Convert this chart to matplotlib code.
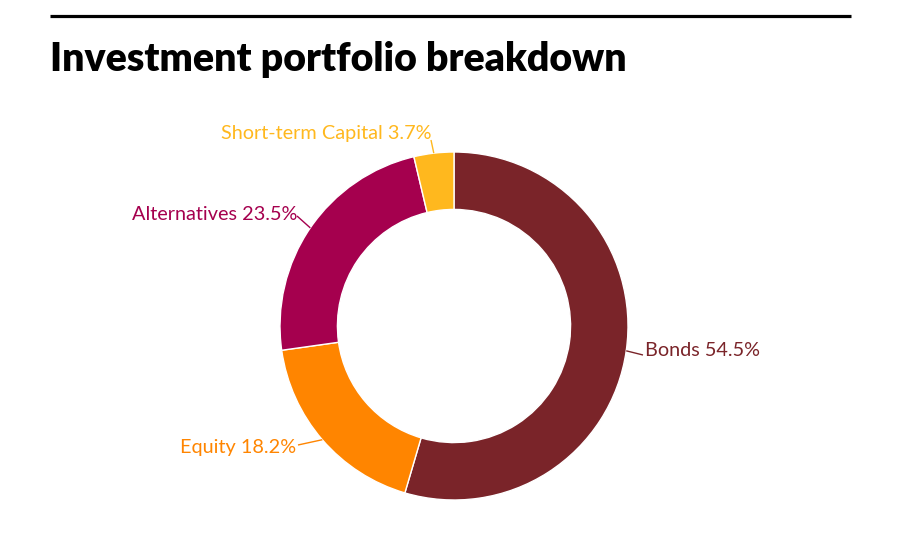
import matplotlib
matplotlib.use("Agg")
import matplotlib.pyplot as plt
import numpy as np

# Data
categories = ["Bonds", "Equity", "Alternatives", "Short-term Capital"]
values = [54.5, 18.2, 23.5, 3.7]
colors = ["#7A2429", "#FF8500", "#A5004E", "#FFB81E"]

W, H = 921, 558
fig = plt.figure(figsize=(W / 100, H / 100), dpi=100)
ax = fig.add_axes([0, 0, 1, 1])

cx, cy_img = 454, 326
R = 174
cy = H - cy_img

wedges, _ = ax.pie(values, startangle=90, counterclock=False, colors=colors,
                   center=(cx, cy), radius=R,
                   wedgeprops=dict(width=R * 0.33, edgecolor="white", linewidth=1))
ax.set_xlim(0, W)
ax.set_ylim(0, H)
ax.set_aspect("equal")
ax.axis("off")

# label layout (image pixel coords): text anchor, ha, leader end
layout = {
    "Bonds": ((645, 350), "left", (643, 355)),
    "Equity": ((296, 447), "right", (298, 445)),
    "Alternatives": ((297, 215), "right", (297, 216)),
    "Short-term Capital": ((431, 133), "right", (431, 140)),
}

for w, cat, val, col in zip(wedges, categories, values, colors):
    mid = np.deg2rad((w.theta1 + w.theta2) / 2)
    px, py = cx + R * np.cos(mid), cy + R * np.sin(mid)
    (tx, ty), ha, (lx, ly) = layout[cat]
    ax.plot([px, lx], [py, H - ly], color=col, lw=1, solid_capstyle="butt")
    ax.text(tx, H - ty, f"{cat} {val}%", color=col, ha=ha, va="center",
            fontsize=14.3, family=["Lato", "DejaVu Sans"])

# top rule and title
ax.plot([50, 851], [H - 16, H - 16], color="black", lw=2.3, solid_capstyle="butt")
ax.text(50, H - 60, "Investment portfolio breakdown", fontsize=28.3, fontweight="heavy",
        family=["Lato", "DejaVu Sans"], ha="left", va="center", color="black")

fig.savefig("out.png", dpi=100)
